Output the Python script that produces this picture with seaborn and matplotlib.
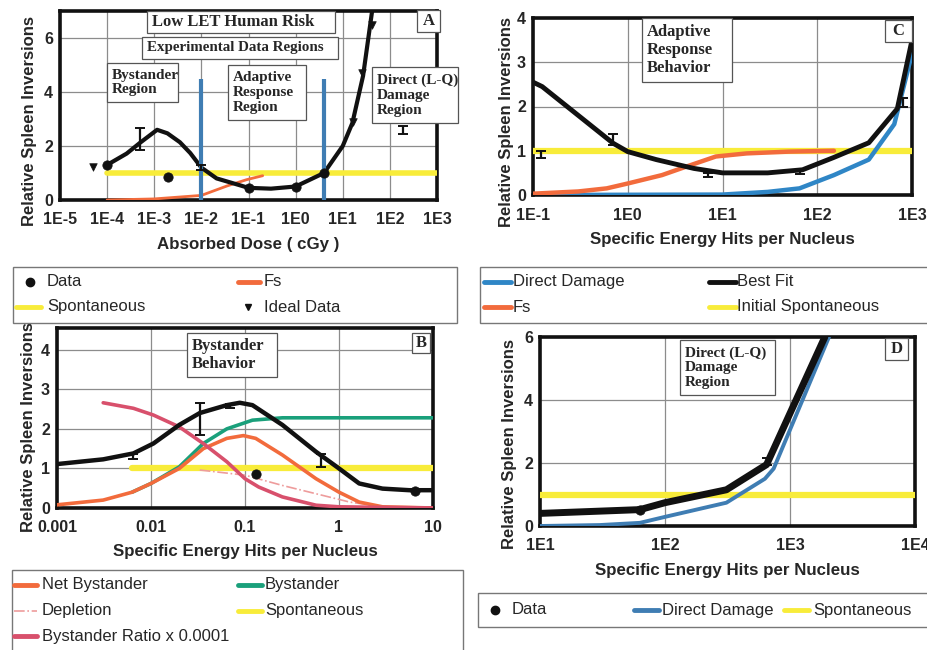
import matplotlib
matplotlib.use("Agg")
import matplotlib.pyplot as plt
import seaborn as sns
from matplotlib.lines import Line2D
from matplotlib.patches import Rectangle
from matplotlib.ticker import NullLocator

# ---------------- Panel A: low-LET human risk vs absorbed dose (cGy)
a_fit_dose = [1e-4, 2.6e-4, 5e-4, 1.15e-3, 1.9e-3, 3.5e-3, 5.8e-3, 1e-2, 2.1e-2,
              4.7e-2, 0.1, 0.3, 1.0, 4.0, 10.0, 16.0, 27.0, 42.0]
a_fit_resp = [1.3, 1.72, 2.12, 2.6, 2.47, 2.14, 1.74, 1.2, 0.8,
              0.62, 0.45, 0.42, 0.5, 1.0, 2.0, 2.85, 4.6, 7.0]
a_fs_dose = [1e-4, 1e-3, 1e-2, 3.5e-2, 9e-2, 0.2]
a_fs_resp = [0.0, 0.04, 0.17, 0.52, 0.75, 0.9]
a_spont_dose = [1e-4, 1e3]
a_spont_resp = [1.0, 1.0]
a_data_dose = [1e-4, 2e-3, 0.1, 1.0, 4.0]
a_data_resp = [1.3, 0.85, 0.45, 0.5, 1.0]
a_err_dose = [5e-4, 1e-2, 190.0]
a_err_resp = [2.25, 1.2, 2.6]
a_err_size = [0.4, 0.1, 0.15]
a_ideal_dose = [5e-5, 16.6, 26.0, 42.0]
a_ideal_resp = [1.22, 2.9, 4.7, 6.5]
a_region_edges = [1e-2, 4.0]
a_region_top = 4.5
a_ticks = [1e-5, 1e-4, 1e-3, 1e-2, 1e-1, 1e0, 1e1, 1e2, 1e3]
a_tick_labels = ["1E-5", "1E-4", "1E-3", "1E-2", "1E-1", "1E0", "1E1", "1E2", "1E3"]

# ---------------- Panel C: adaptive response behaviour
c_fit_hits = [0.1, 0.125, 0.7, 1.0, 2.0, 5.0, 10.0, 30.0, 70.0, 150.0, 350.0, 700.0, 1000.0]
c_fit_resp = [2.55, 2.45, 1.17, 0.98, 0.8, 0.6, 0.5, 0.5, 0.57, 0.85, 1.18, 1.95, 3.5]
c_fs_hits = [0.1, 0.3, 0.6, 1.0, 2.3, 4.0, 8.5, 18.0, 50.0, 150.0]
c_fs_resp = [0.03, 0.08, 0.15, 0.26, 0.45, 0.63, 0.87, 0.94, 0.98, 1.0]
c_direct_hits = [0.1, 10.0, 30.0, 65.0, 150.0, 350.0, 650.0, 1000.0]
c_direct_resp = [0.0, 0.01, 0.07, 0.15, 0.45, 0.8, 1.6, 3.2]
c_spont_hits = [0.1, 1000.0]
c_spont_resp = [1.0, 1.0]
c_err_hits = [0.12, 0.7, 7.0, 65.0, 800.0]
c_err_resp = [0.92, 1.25, 0.45, 0.53, 2.1]
c_err_size = [0.08, 0.12, 0.05, 0.05, 0.1]
c_ticks = [0.1, 1.0, 10.0, 100.0, 1000.0]
c_tick_labels = ["1E-1", "1E0", "1E1", "1E2", "1E3"]

# ---------------- Panel B: bystander behaviour
b_fit_hits = [0.001, 0.0031, 0.0065, 0.0106, 0.02, 0.033, 0.064, 0.088, 0.12,
              0.25, 0.57, 1.0, 1.64, 2.9, 5.6, 10.0]
b_fit_resp = [1.11, 1.23, 1.38, 1.63, 2.1, 2.4, 2.6, 2.66, 2.6,
              2.1, 1.42, 1.0, 0.62, 0.49, 0.45, 0.45]
b_bys_hits = [0.0063, 0.01, 0.02, 0.036, 0.064, 0.12, 0.25, 10.0]
b_bys_resp = [0.4, 0.62, 1.04, 1.63, 2.0, 2.22, 2.28, 2.28]
b_net_hits = [0.001, 0.0031, 0.0063, 0.01, 0.02, 0.036, 0.064, 0.096, 0.13,
              0.25, 0.57, 1.0, 1.64, 2.9, 10.0]
b_net_resp = [0.08, 0.2, 0.4, 0.62, 1.0, 1.5, 1.76, 1.83, 1.76,
              1.34, 0.74, 0.4, 0.15, 0.03, 0.0]
b_ratio_hits = [0.0031, 0.0065, 0.0106, 0.02, 0.036, 0.064, 0.1, 0.14, 0.25, 0.57, 1.0, 10.0]
b_ratio_resp = [2.66, 2.52, 2.35, 2.05, 1.63, 1.17, 0.74, 0.53, 0.28, 0.07, 0.03, 0.0]
b_depl_hits = [0.033, 0.1, 0.25, 0.57, 1.3, 2.9, 10.0]
b_depl_resp = [0.96, 0.83, 0.57, 0.36, 0.15, 0.03, 0.0]
b_spont_hits = [0.0063, 10.0]
b_spont_resp = [1.0, 1.0]
b_data_hits = [0.13, 6.5]
b_data_resp = [0.87, 0.43]
b_err_hits = [0.0065, 0.033, 0.07, 0.65]
b_err_resp = [1.3, 2.25, 2.58, 1.2]
b_err_size = [0.07, 0.4, 0.05, 0.17]
b_ticks = [0.001, 0.01, 0.1, 1.0, 10.0]
b_tick_labels = ["0.001", "0.01", "0.1", "1", "10"]

# ---------------- Panel D: direct (L-Q) damage
d_fit_hits = [10.0, 63.0, 100.0, 310.0, 650.0, 1900.0]
d_fit_resp = [0.4, 0.52, 0.74, 1.15, 1.95, 6.0]
d_direct_hits = [10.0, 30.0, 63.0, 100.0, 310.0, 630.0, 740.0, 2050.0]
d_direct_resp = [0.0, 0.03, 0.1, 0.29, 0.74, 1.5, 1.82, 6.0]
d_spont_hits = [10.0, 10000.0]
d_spont_resp = [1.0, 1.0]
d_data_hits = [63.0]
d_data_resp = [0.52]
d_err_hits = [650.0]
d_err_resp = [2.05]
d_err_size = [0.12]
d_ticks = [10.0, 100.0, 1000.0, 10000.0]
d_tick_labels = ["1E1", "1E2", "1E3", "1E4"]

# ---------------- styling
BLACK = "#111111"
YELLOW = "#F8EC3A"
ORANGE = "#F26B3C"
BLUE = "#2F86C6"
BLUE_D = "#3F7DB3"
GREEN = "#1AA07B"
PINK = "#D8506C"
DEPL = "#EE9C9C"
SANS = "Liberation Sans"
SERIF = "Liberation Serif"

sns.set_theme(style="white")
plt.rcParams["font.family"] = [SANS, "DejaVu Sans"]

W, H = 928, 650
fig = plt.figure(figsize=(W / 100, H / 100), dpi=100)


def axes_px(left, top, right, bottom):
    return fig.add_axes([left / W, 1 - bottom / H, (right - left) / W, (bottom - top) / H])


def style_axes(ax, xlim, ylim, yticks, xticks, xlabels, xlabel, ylab_xy, xlab_y):
    ax.set_xscale("log")
    ax.set_xlim(*xlim)
    ax.set_ylim(*ylim)
    ax.set_xticks(xticks)
    ax.set_xticklabels(xlabels)
    ax.xaxis.set_minor_locator(NullLocator())
    ax.set_yticks(yticks)
    ax.set_yticklabels([f"{t:g}" for t in yticks])
    ax.grid(True, which="major", color="#8c8c8c", lw=0.9)
    ax.set_axisbelow(True)
    for sp in ax.spines.values():
        sp.set_visible(True)
        sp.set_color(BLACK)
        sp.set_linewidth(2.6)
    ax.tick_params(axis="x", length=0, pad=9, labelsize=11.5)
    ax.tick_params(axis="y", length=0, pad=5, labelsize=11.5)
    for lab in ax.get_xticklabels() + ax.get_yticklabels():
        lab.set_fontweight("bold")
    ax.set_xlabel(xlabel, fontsize=12.2, fontweight="bold")
    ax.xaxis.label.set_va("center")
    ax.xaxis.set_label_coords(0.5, xlab_y)
    ax.set_ylabel("Relative Spleen Inversions", fontsize=12, fontweight="bold")
    ax.yaxis.label.set_va("center")
    ax.yaxis.set_label_coords(*ylab_xy)


def line(ax, x, y, color, lw, ls="-", z=3):
    sns.lineplot(x=x, y=y, ax=ax, color=color, lw=lw, ls=ls, estimator=None,
                 sort=False, zorder=z, legend=False)


def errs(ax, x, y, e):
    ax.errorbar(x, y, yerr=e, fmt="none", ecolor=BLACK, elinewidth=1.6,
                capsize=3.5, capthick=1.4, zorder=6)


def note_box(x0, y0, x1, y1, text, size, lsp=1.2, ha="left"):
    fig.add_artist(Rectangle((x0 / W, 1 - y1 / H), (x1 - x0) / W, (y1 - y0) / H,
                             transform=fig.transFigure, facecolor="white",
                             edgecolor="#555555", lw=0.9, zorder=5))
    tx = (x0 + 5) / W if ha == "left" else (x0 + x1) / 2 / W
    fig.text(tx, 1 - (y0 + y1) / 2 / H, text, ha=ha, va="center", fontsize=size,
             fontweight="bold", family=SERIF, linespacing=lsp, zorder=6)


def leg_frame(x0, y0, x1, y1):
    fig.add_artist(Rectangle((x0 / W, 1 - y1 / H), (x1 - x0) / W, (y1 - y0) / H,
                             transform=fig.transFigure, facecolor="white",
                             edgecolor="#777777", lw=1.0, zorder=5))


def leg_line(x0, x1, y, color, lw=3.5, ls="-"):
    fig.add_artist(Line2D([x0 / W, x1 / W], [1 - y / H, 1 - y / H], transform=fig.transFigure,
                          color=color, lw=lw, ls=ls, solid_capstyle="round", zorder=6))


def leg_mark(x, y, marker, ms):
    fig.add_artist(Line2D([x / W], [1 - y / H], transform=fig.transFigure, ls="none",
                          marker=marker, ms=ms, color=BLACK, zorder=6))


def leg_text(x, y, s):
    fig.text(x / W, 1 - y / H, s, ha="left", va="center", fontsize=12, family=SANS, zorder=6)


# ================= Panel A
axA = axes_px(60, 11, 437, 200)
line(axA, a_spont_dose, a_spont_resp, YELLOW, 4)
line(axA, a_fs_dose, a_fs_resp, ORANGE, 2)
line(axA, a_fit_dose, a_fit_resp, BLACK, 3)
axA.vlines(a_region_edges, 0, a_region_top, color=BLUE_D, lw=3, zorder=4)
sns.scatterplot(x=a_data_dose, y=a_data_resp, ax=axA, color=BLACK, s=45, marker="o",
                edgecolor=BLACK, zorder=7, legend=False)
sns.scatterplot(x=a_ideal_dose, y=a_ideal_resp, ax=axA, color=BLACK, s=30, marker="v",
                edgecolor=BLACK, zorder=7, legend=False)
errs(axA, a_err_dose, a_err_resp, a_err_size)
style_axes(axA, (1e-5, 1e3), (0, 7), [0, 2, 4, 6], a_ticks, a_tick_labels,
           "Absorbed Dose ( cGy )", (-0.08, 0.42), -0.238)

note_box(147, 11, 335, 33, "Low LET Human Risk", 12)
note_box(142, 37, 338, 59, "Experimental Data Regions", 10.8)
note_box(107, 63, 178, 102, "Bystander\nRegion", 11)
note_box(228, 65, 306, 120, "Adaptive\nResponse\nRegion", 11)
note_box(372, 67, 458, 123, "Direct (L-Q)\nDamage\nRegion", 11)
note_box(417, 10, 440, 32, "A", 12, ha="center")

leg_frame(13, 267, 457, 323)
leg_mark(30, 282, "o", 6)
leg_text(47, 282, "Data")
leg_line(238, 260, 282, ORANGE)
leg_text(264, 282, "Fs")
leg_line(16, 41, 307, YELLOW)
leg_text(47, 307, "Spontaneous")
leg_mark(248, 307, "v", 5)
leg_text(264, 307, "Ideal Data")

# ================= Panel C
axC = axes_px(533, 18, 912, 195)
line(axC, c_spont_hits, c_spont_resp, YELLOW, 4.5, z=3)
line(axC, c_direct_hits, c_direct_resp, BLUE, 3.2, z=4)
line(axC, c_fs_hits, c_fs_resp, ORANGE, 3.2, z=4)
line(axC, c_fit_hits, c_fit_resp, BLACK, 3.5, z=5)
errs(axC, c_err_hits, c_err_resp, c_err_size)
style_axes(axC, (0.1, 1000), (0, 4), [0, 1, 2, 3, 4], c_ticks, c_tick_labels,
           "Specific Energy Hits per Nucleus", (-0.069, 0.41), -0.254)
note_box(642, 18, 732, 82, "Adaptive\nResponse\nBehavior", 12)
note_box(885, 20, 912, 42, "C", 12, ha="center")

leg_frame(480, 267, 932, 323)
leg_line(484, 511, 282, BLUE)
leg_text(513, 282, "Direct Damage")
leg_line(709, 736, 282, BLACK)
leg_text(737, 282, "Best Fit")
leg_line(484, 511, 307, ORANGE)
leg_text(513, 307, "Fs")
leg_line(709, 736, 307, YELLOW)
leg_text(737, 307, "Initial Spontaneous")

# ================= Panel B
axB = axes_px(57, 328, 433, 508)
line(axB, b_spont_hits, b_spont_resp, YELLOW, 4.5, z=3)
line(axB, b_depl_hits, b_depl_resp, DEPL, 1.2, ls="-.", z=3)
line(axB, b_bys_hits, b_bys_resp, GREEN, 2.6, z=4)
line(axB, b_net_hits, b_net_resp, ORANGE, 2.6, z=4)
line(axB, b_ratio_hits, b_ratio_resp, PINK, 2.6, z=4)
line(axB, b_fit_hits, b_fit_resp, BLACK, 3.2, z=5)
sns.scatterplot(x=b_data_hits, y=b_data_resp, ax=axB, color=BLACK, s=45, marker="o",
                edgecolor=BLACK, zorder=7, legend=False)
errs(axB, b_err_hits, b_err_resp, b_err_size)
style_axes(axB, (0.001, 10), (0, 4.55), [0, 1, 2, 3, 4], b_ticks, b_tick_labels,
           "Specific Energy Hits per Nucleus", (-0.077, 0.45), -0.244)
note_box(187, 333, 277, 377, "Bystander\nBehavior", 12)
note_box(412, 333, 430, 353, "B", 12, ha="center")

leg_frame(12, 570, 463, 660)
leg_line(14, 37, 585, ORANGE)
leg_text(42, 585, "Net Bystander")
leg_line(238, 262, 585, GREEN)
leg_text(265, 585, "Bystander")
leg_line(14, 37, 611, DEPL, lw=1.2, ls="-.")
leg_text(42, 611, "Depletion")
leg_line(238, 262, 611, YELLOW)
leg_text(265, 611, "Spontaneous")
leg_line(14, 37, 636, PINK)
leg_text(42, 636, "Bystander Ratio x 0.0001")

# ================= Panel D
axD = axes_px(540, 337, 915, 526)
line(axD, d_spont_hits, d_spont_resp, YELLOW, 4.5, z=3)
line(axD, d_direct_hits, d_direct_resp, BLUE_D, 2.8, z=4)
line(axD, d_fit_hits, d_fit_resp, BLACK, 5, z=5)
sns.scatterplot(x=d_data_hits, y=d_data_resp, ax=axD, color=BLACK, s=45, marker="o",
                edgecolor=BLACK, zorder=7, legend=False)
errs(axD, d_err_hits, d_err_resp, d_err_size)
style_axes(axD, (10, 10000), (0, 6), [0, 2, 4, 6], d_ticks, d_tick_labels,
           "Specific Energy Hits per Nucleus", (-0.08, 0.434), -0.238)
note_box(680, 340, 775, 395, "Direct (L-Q)\nDamage\nRegion", 11, lsp=1.15)
note_box(885, 338, 908, 360, "D", 12, ha="center")

leg_frame(478, 593, 932, 627)
leg_mark(495, 610, "o", 6)
leg_text(512, 610, "Data")
leg_line(634, 659, 610, BLUE_D)
leg_text(662, 610, "Direct Damage")
leg_line(784, 809, 610, YELLOW)
leg_text(813, 610, "Spontaneous")

fig.savefig("out.png", dpi=100)
